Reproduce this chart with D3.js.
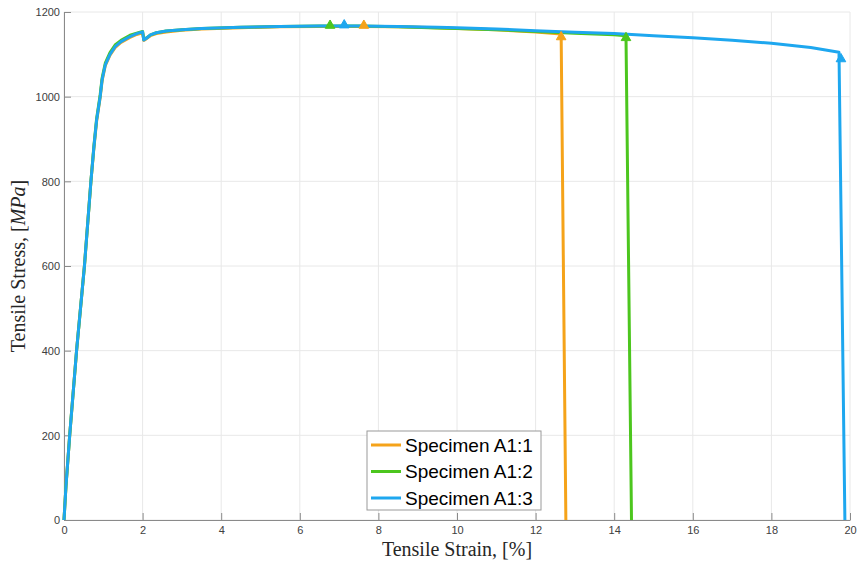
<!DOCTYPE html>
<html>
<head>
<meta charset="utf-8">
<script src="https://cdn.jsdelivr.net/npm/d3@7"></script>
<style>
  html, body { margin: 0; padding: 0; background: #ffffff; }
  svg { display: block; }
</style>
</head>
<body>
<div id="chart"></div>
<script>
// Series names and colours
const seriesNames = ['Specimen A1:1', 'Specimen A1:2', 'Specimen A1:3'];
const seriesColors = ['#f5a31a', '#4cc61e', '#1ea7ef'];

// Strain [%] / stress [MPa]
const strainA1 = [0, 0.05, 0.145, 0.32, 0.52, 0.685, 0.76, 0.83, 0.92, 0.97, 1.05, 1.17, 1.3, 1.45, 1.68, 1.85, 2.0, 2.03, 2.1, 2.2, 2.35, 2.6, 3.0, 3.5, 4.5, 5.5, 6.5, 7.5, 8.5, 9.5, 10, 11, 12, 12.65, 12.77];
const stressA1 = [0, 80, 200, 400, 600, 800, 878, 942, 998, 1038, 1073, 1098, 1116, 1128, 1140, 1147, 1151, 1133, 1137, 1144, 1149, 1153, 1157, 1160, 1163, 1165, 1166, 1166, 1165, 1163, 1161, 1158, 1153, 1148, 0];

const strainA2 = [0, 0.05, 0.145, 0.32, 0.52, 0.685, 0.76, 0.83, 0.92, 0.97, 1.05, 1.17, 1.3, 1.45, 1.68, 1.85, 2.0, 2.03, 2.1, 2.2, 2.35, 2.6, 3.0, 3.5, 4.5, 5.5, 6.5, 7.5, 8.5, 9.5, 10, 11, 12, 13, 14, 14.3, 14.44];
const stressA2 = [0, 80, 200, 400, 600, 800, 882, 948, 1004, 1044, 1079, 1104, 1122, 1133, 1145, 1150, 1154, 1135, 1139, 1146, 1151, 1155, 1158, 1161, 1164, 1166, 1167, 1167, 1165, 1162, 1161, 1158, 1154, 1150, 1146, 1144, 0];

const strainA3 = [0, 0.05, 0.145, 0.32, 0.52, 0.685, 0.76, 0.83, 0.92, 0.97, 1.05, 1.17, 1.3, 1.45, 1.68, 1.85, 2.0, 2.03, 2.1, 2.2, 2.35, 2.6, 3.0, 3.5, 4.5, 5.5, 6.5, 7.5, 8.5, 9.5, 10, 11, 12, 13, 14, 15, 16, 17, 18, 19, 19.72, 19.87];
const stressA3 = [0, 80, 200, 400, 600, 800, 880, 945, 1000, 1040, 1075, 1100, 1118, 1130, 1142, 1149, 1153, 1134, 1138, 1146, 1151, 1155, 1158, 1161, 1164, 1166, 1167, 1167, 1166, 1164, 1163, 1160, 1156, 1152, 1149, 1144, 1139, 1133, 1126, 1116, 1105, 0];

// Triangle markers: peak stress and fracture
const peakStrain = [7.63, 6.77, 7.13];
const peakStress = [1168, 1168, 1169];
const fractureStrain = [12.65, 14.3, 19.77];
const fractureStress = [1141, 1139, 1089];

const xTicks = [0, 2, 4, 6, 8, 10, 12, 14, 16, 18, 20];
const yTicks = [0, 200, 400, 600, 800, 1000, 1200];

const width = 857, height = 568;
const margin = { top: 12, right: 7, bottom: 48, left: 64 };
const innerW = width - margin.left - margin.right;
const innerH = height - margin.top - margin.bottom;

const svg = d3.select('#chart').append('svg')
  .attr('width', width)
  .attr('height', height);

const g = svg.append('g').attr('transform', `translate(${margin.left},${margin.top})`);

const x = d3.scaleLinear().domain([0, 20]).range([0, innerW]);
const y = d3.scaleLinear().domain([0, 1200]).range([innerH, 0]);

// grid
g.append('g').selectAll('line').data(xTicks).enter().append('line')
  .attr('x1', d => x(d)).attr('x2', d => x(d))
  .attr('y1', 0).attr('y2', innerH)
  .attr('stroke', '#e8e8e8').attr('stroke-width', 1);
g.append('g').selectAll('line').data(yTicks).enter().append('line')
  .attr('x1', 0).attr('x2', innerW)
  .attr('y1', d => y(d)).attr('y2', d => y(d))
  .attr('stroke', '#e8e8e8').attr('stroke-width', 1);

// axes (ticks pointing inward)
const xAxis = g.append('g').attr('transform', `translate(0,${innerH})`)
  .call(d3.axisBottom(x).tickValues(xTicks).tickFormat(d3.format('d'))
    .tickSizeInner(-7).tickSizeOuter(0).tickPadding(6));
const yAxis = g.append('g')
  .call(d3.axisLeft(y).tickValues(yTicks).tickFormat(d3.format('d'))
    .tickSizeInner(-7).tickSizeOuter(0).tickPadding(4));

[xAxis, yAxis].forEach(ax => {
  ax.select('.domain').attr('stroke', '#8a8a8a').attr('stroke-width', 1);
  ax.selectAll('.tick line').attr('stroke', '#8a8a8a');
  ax.selectAll('.tick text')
    .attr('fill', '#404040')
    .style('font-family', 'Liberation Sans, Arial, sans-serif')
    .style('font-size', '11px');
});
yAxis.selectAll('.tick text').attr('dy', '0.35em');

// curves
const allStrain = [strainA1, strainA2, strainA3];
const allStress = [stressA1, stressA2, stressA3];
const line = d3.line().x(d => x(d[0])).y(d => y(d[1]));

seriesNames.forEach((name, i) => {
  const pts = d3.zip(allStrain[i], allStress[i]);
  g.append('path')
    .datum(pts)
    .attr('fill', 'none')
    .attr('stroke', seriesColors[i])
    .attr('stroke-width', 3)
    .attr('stroke-linejoin', 'round')
    .attr('d', line);
});

// markers
const tri = d3.symbol().type(d3.symbolTriangle).size(40);
seriesNames.forEach((name, i) => {
  [[peakStrain[i], peakStress[i]], [fractureStrain[i], fractureStress[i]]].forEach(p => {
    g.append('path')
      .attr('d', tri)
      .attr('transform', `translate(${x(p[0])},${y(p[1])})`)
      .attr('fill', seriesColors[i])
      .attr('stroke', seriesColors[i])
      .attr('stroke-width', 1);
  });
});

// axis labels
svg.append('text')
  .attr('x', margin.left + innerW / 2)
  .attr('y', 556)
  .attr('text-anchor', 'middle')
  .style('font-family', 'Liberation Serif, DejaVu Serif, serif')
  .style('font-size', '20px')
  .attr('fill', '#262626')
  .text('Tensile Strain, [%]');

const yl = svg.append('text')
  .attr('transform', `translate(25,${margin.top + innerH / 2}) rotate(-90)`)
  .attr('text-anchor', 'middle')
  .style('font-family', 'Liberation Serif, DejaVu Serif, serif')
  .style('font-size', '20px')
  .attr('fill', '#262626');
yl.append('tspan').text('Tensile Stress, [');
yl.append('tspan').style('font-style', 'italic').text('MPa');
yl.append('tspan').text(']');

// legend
const legend = svg.append('g').attr('transform', 'translate(367,431)');
legend.append('rect')
  .attr('width', 174).attr('height', 79)
  .attr('fill', '#ffffff')
  .attr('stroke', '#9a9a9a').attr('stroke-width', 1);
seriesNames.forEach((name, i) => {
  const row = legend.append('g').attr('transform', `translate(0,${14 + i * 26.5})`);
  row.append('line')
    .attr('x1', 4).attr('x2', 34)
    .attr('stroke', seriesColors[i]).attr('stroke-width', 3);
  row.append('text')
    .attr('x', 38).attr('dy', '0.35em')
    .style('font-family', 'Liberation Sans, Arial, sans-serif')
    .style('font-size', '19px')
    .attr('fill', '#000000')
    .text(name);
});
</script>
</body>
</html>
